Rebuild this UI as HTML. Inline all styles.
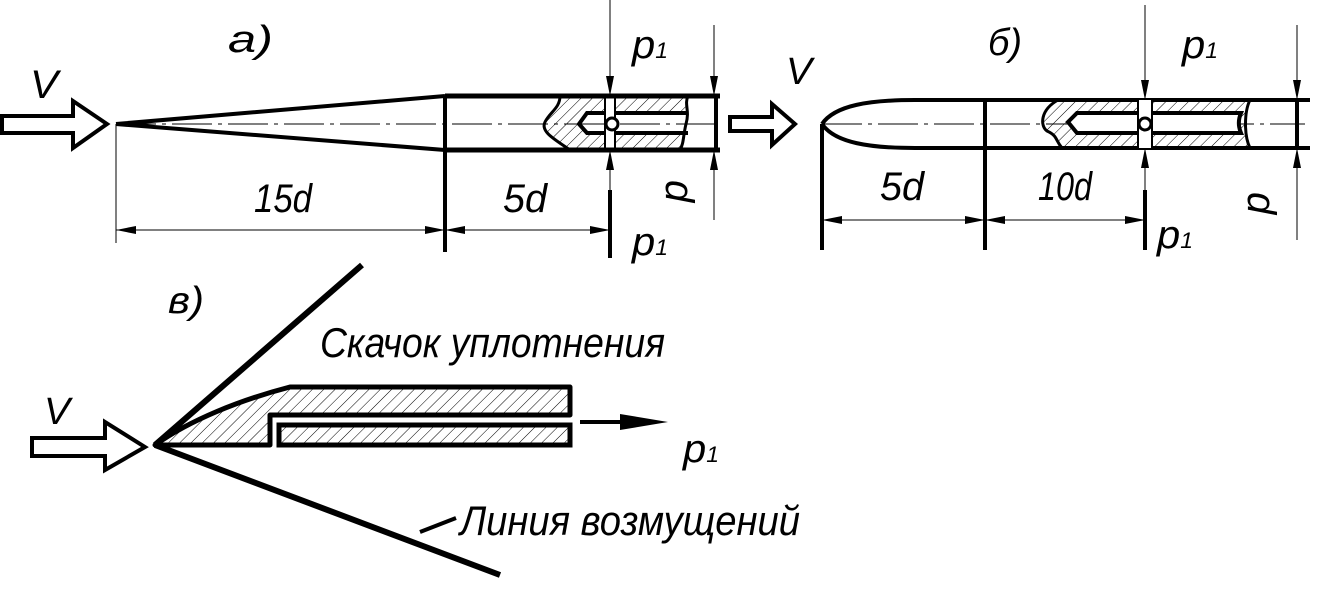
<!DOCTYPE html>
<html><head><meta charset="utf-8"><style>
html,body{margin:0;padding:0;background:#fff}
svg{display:block}
text{font-family:"Liberation Sans",sans-serif;font-style:italic;fill:#000}
</style></head><body>
<svg width="1317" height="606" viewBox="0 0 1317 606" xmlns="http://www.w3.org/2000/svg">
<defs>
<pattern id="h" width="8" height="8" patternUnits="userSpaceOnUse" patternTransform="rotate(45)">
<line x1="0" y1="0" x2="0" y2="8" stroke="#000" stroke-width="1"/>
</pattern>
<marker id="ah" viewBox="0 0 20 8" refX="20" refY="4" markerWidth="20" markerHeight="8" markerUnits="userSpaceOnUse" orient="auto-start-reverse">
<path d="M0,0 L20,4 L0,8 Z" fill="#000"/>
</marker>
</defs>

<!-- ===== a) ===== -->
<text x="228" y="52" font-size="38" textLength="45" lengthAdjust="spacingAndGlyphs">a)</text>
<text x="30" y="98" font-size="40" textLength="28" lengthAdjust="spacingAndGlyphs">V</text>
<path d="M2,116 H73 V101 L107,124 L73,148 V133 H2 Z" fill="none" stroke="#000" stroke-width="4"/>
<line x1="116" y1="124" x2="720" y2="124" stroke="#000" stroke-width="1" stroke-dasharray="40,6,4,6"/>
<path d="M116,124 L445,96 M116,124 L445,150" stroke="#000" stroke-width="4" fill="none"/>
<path d="M560,96 H688 L685,113 H587 L579,124 L587,133 H685 L680,150 H570 C556,140 540,132 545,122 C550,112 560,108 560,96 Z" fill="url(#h)" stroke="none"/>
<path d="M560,96 C560,108 550,112 545,122 C540,132 556,140 570,150" fill="none" stroke="#000" stroke-width="3"/>
<path d="M688,96 C684,105 690,110 686,124 C683,136 684,143 680,150" fill="none" stroke="#000" stroke-width="3"/>
<path d="M688,113 H587 L579,124 L587,133 H688" fill="none" stroke="#000" stroke-width="4"/>
<rect x="605" y="96" width="10" height="54" fill="#fff"/>
<line x1="605" y1="96" x2="605" y2="150" stroke="#000" stroke-width="2"/>
<line x1="615" y1="96" x2="615" y2="150" stroke="#000" stroke-width="2"/>
<circle cx="612" cy="124" r="6" fill="#fff" stroke="#000" stroke-width="3"/>
<path d="M445,96 H720 M445,150 H720" stroke="#000" stroke-width="5"/>
<line x1="445" y1="96" x2="445" y2="252" stroke="#000" stroke-width="4"/>
<line x1="716" y1="96" x2="716" y2="150" stroke="#000" stroke-width="4"/>
<line x1="610" y1="0" x2="610" y2="96" stroke="#000" stroke-width="1" marker-end="url(#ah)"/>
<line x1="610" y1="190" x2="610" y2="150" stroke="#000" stroke-width="1" marker-end="url(#ah)"/>
<line x1="610" y1="190" x2="610" y2="258" stroke="#000" stroke-width="4"/>
<text x="632" y="58" font-size="40" textLength="36" lengthAdjust="spacingAndGlyphs">p<tspan font-size="22">1</tspan></text>
<text x="632" y="255" font-size="40" textLength="36" lengthAdjust="spacingAndGlyphs">p<tspan font-size="22">1</tspan></text>
<line x1="714" y1="25" x2="714" y2="96" stroke="#000" stroke-width="1" marker-end="url(#ah)"/>
<line x1="714" y1="220" x2="714" y2="150" stroke="#000" stroke-width="1" marker-end="url(#ah)"/>
<text transform="translate(666,180) rotate(90)" font-size="40">d</text>
<line x1="116" y1="124" x2="116" y2="243" stroke="#000" stroke-width="1"/>
<line x1="116" y1="230" x2="445" y2="230" stroke="#000" stroke-width="1" marker-start="url(#ah)" marker-end="url(#ah)"/>
<line x1="445" y1="230" x2="610" y2="230" stroke="#000" stroke-width="1" marker-start="url(#ah)" marker-end="url(#ah)"/>
<text x="254" y="212" font-size="40" textLength="58" lengthAdjust="spacingAndGlyphs">15d</text>
<text x="503" y="212" font-size="40" textLength="44" lengthAdjust="spacingAndGlyphs">5d</text>

<!-- ===== б) ===== -->
<text x="988" y="55" font-size="38" textLength="34" lengthAdjust="spacingAndGlyphs">б)</text>
<text x="786" y="84" font-size="38" textLength="26" lengthAdjust="spacingAndGlyphs">V</text>
<path d="M730,117 H772 V104 L795,124 L772,145 V131 H730 Z" fill="none" stroke="#000" stroke-width="4"/>
<line x1="822" y1="124" x2="1305" y2="124" stroke="#000" stroke-width="1" stroke-dasharray="40,6,4,6"/>
<path d="M822,124 C835,105 870,100 915,100 H1310 M822,124 C835,143 870,148 915,148 H1310" stroke="#000" stroke-width="4" fill="none"/>
<path d="M1058,100 H1250 C1244,112 1244,136 1250,148 H1062 C1055,140 1058,136 1047,131 C1040,126 1040,110 1058,100 Z" fill="url(#h)"/>
<path d="M1058,100 C1040,110 1040,126 1047,131 C1058,136 1055,140 1062,148" fill="none" stroke="#000" stroke-width="3"/>
<path d="M1250,100 C1244,112 1244,136 1250,148" fill="none" stroke="#000" stroke-width="3"/>
<path d="M1241,113 H1077 L1068,122 L1077,133 H1241 C1238,126 1238,120 1241,113 Z" fill="#fff" stroke="#000" stroke-width="4"/>
<rect x="1138" y="100" width="14" height="48" fill="#fff"/>
<line x1="1138" y1="100" x2="1138" y2="148" stroke="#000" stroke-width="2"/>
<line x1="1152" y1="100" x2="1152" y2="148" stroke="#000" stroke-width="2"/>
<circle cx="1145" cy="124" r="6" fill="#fff" stroke="#000" stroke-width="3"/>
<line x1="822" y1="124" x2="822" y2="250" stroke="#000" stroke-width="4"/>
<line x1="985" y1="100" x2="985" y2="250" stroke="#000" stroke-width="4"/>
<line x1="1297" y1="100" x2="1297" y2="148" stroke="#000" stroke-width="4"/>
<line x1="1145" y1="5" x2="1145" y2="100" stroke="#000" stroke-width="1" marker-end="url(#ah)"/>
<line x1="1145" y1="190" x2="1145" y2="148" stroke="#000" stroke-width="1" marker-end="url(#ah)"/>
<line x1="1145" y1="190" x2="1145" y2="250" stroke="#000" stroke-width="4"/>
<text x="1182" y="58" font-size="40" textLength="36" lengthAdjust="spacingAndGlyphs">p<tspan font-size="22">1</tspan></text>
<text x="1157" y="248" font-size="40" textLength="36" lengthAdjust="spacingAndGlyphs">p<tspan font-size="22">1</tspan></text>
<line x1="1297" y1="25" x2="1297" y2="100" stroke="#000" stroke-width="1" marker-end="url(#ah)"/>
<line x1="1297" y1="240" x2="1297" y2="148" stroke="#000" stroke-width="1" marker-end="url(#ah)"/>
<text transform="translate(1248,192) rotate(90)" font-size="40">d</text>
<line x1="822" y1="220" x2="985" y2="220" stroke="#000" stroke-width="1" marker-start="url(#ah)" marker-end="url(#ah)"/>
<line x1="985" y1="220" x2="1145" y2="220" stroke="#000" stroke-width="1" marker-start="url(#ah)" marker-end="url(#ah)"/>
<text x="880" y="200" font-size="40" textLength="44" lengthAdjust="spacingAndGlyphs">5d</text>
<text x="1038" y="200" font-size="40" textLength="54" lengthAdjust="spacingAndGlyphs">10d</text>

<!-- ===== в) ===== -->
<text x="168" y="313" font-size="38" textLength="36" lengthAdjust="spacingAndGlyphs">в)</text>
<text x="44" y="424" font-size="38" textLength="26" lengthAdjust="spacingAndGlyphs">V</text>
<path d="M32,438 H105 V422 L145,447 L105,470 V456 H32 Z" fill="none" stroke="#000" stroke-width="4"/>
<path d="M155,445 L362,265 M155,445 L500,575" stroke="#000" stroke-width="6" fill="none"/>
<path d="M155,445 C190,420 240,400 290,387 H570 V415 H270 V445 Z" fill="url(#h)" stroke="#000" stroke-width="5" stroke-linejoin="round"/>
<rect x="279" y="425" width="291" height="20" fill="url(#h)" stroke="#000" stroke-width="5"/>
<line x1="580" y1="422" x2="640" y2="422" stroke="#000" stroke-width="4"/>
<path d="M620,414 L668,422 L620,430 Z" fill="#000"/>
<text x="683" y="462" font-size="40" textLength="36" lengthAdjust="spacingAndGlyphs">p<tspan font-size="22">1</tspan></text>
<text x="320" y="357" font-size="42" textLength="345" lengthAdjust="spacingAndGlyphs">Скачок уплотнения</text>
<line x1="420" y1="532" x2="456" y2="518" stroke="#000" stroke-width="4"/>
<text x="460" y="535" font-size="42" textLength="340" lengthAdjust="spacingAndGlyphs">Линия возмущений</text>
</svg>
</body></html>
